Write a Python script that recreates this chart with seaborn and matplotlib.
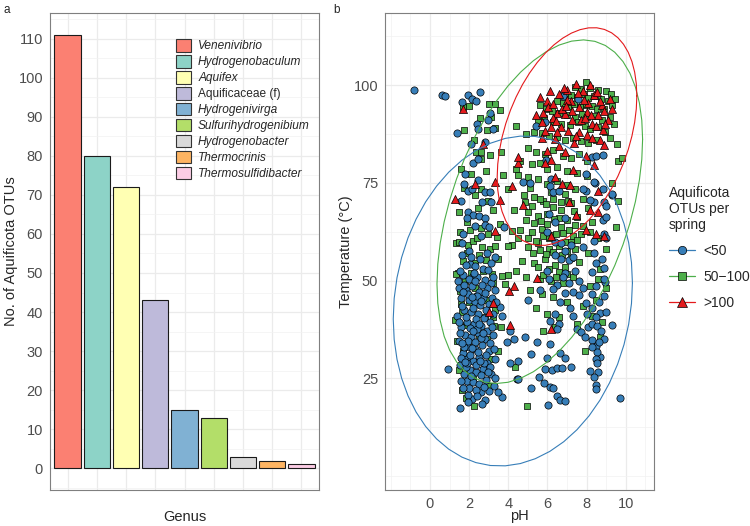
import numpy as np
import pandas as pd
import matplotlib
matplotlib.use("Agg")
import matplotlib.pyplot as plt
import seaborn as sns
from matplotlib.patches import Patch
from matplotlib.lines import Line2D
from matplotlib.ticker import FixedLocator, MultipleLocator

# ---- panel a: OTUs per genus ----
genera = ["Venenivibrio", "Hydrogenobaculum", "Aquifex", "Aquificaceae (f)",
          "Hydrogenivirga", "Sulfurihydrogenibium", "Hydrogenobacter",
          "Thermocrinis", "Thermosulfidibacter"]
otu_counts = [111, 80, 72, 43, 15, 13, 3, 2, 1]
genus_colours = ["#FB8072", "#8DD3C7", "#FFFFB3", "#BEBADA", "#80B1D3",
                 "#B3DE69", "#D9D9D9", "#FDB462", "#FCCDE5"]
genus_italic = [True, True, True, False, True, True, True, True, True]

# ---- panel b: springs, pH vs temperature ----
spring_groups = ["<50", "50\u2212100", ">100"]
group_colours = ["#377EB8", "#4DAF4A", "#E41A1C"]
group_markers = ["o", "s", "^"]
group_sizes = [27, 24, 34]

# (pH, temperature) for springs with <50 Aquificota OTUs
springs_lt50 = [
    (-0.8, 98.7), (0.6, 97.6), (0.75, 97.3), (1.65, 95.8), (1.95, 97.4), (2.15, 96.5),
    (2.35, 96.0), (2.55, 98.2), (3.05, 93.0), (2.95, 91.0), (3.2, 88.8), (2.4, 90.0),
    (2.45, 88.7), (1.4, 87.8), (2.1, 85.0), (2.8, 85.5), (2.2, 80.0), (2.45, 81.2),
    (6.8, 97.2), (5.4, 89.6), (5.9, 90.5), (7.55, 96.5), (8.3, 81.6), (8.5, 81.8),
    (8.85, 82.2), (5.95, 80.8), (6.2, 76.0), (7.95, 77.4),
    (1.8, 77.3), (1.75, 74.8), (1.95, 73.0), (2.15, 73.5), (2.8, 72.7), (3.05, 72.7),
    (2.65, 70.0), (3.1, 70.0), (1.95, 67.6), (2.2, 66.7), (2.5, 66.5), (1.9, 66.0),
    (2.8, 66.0), (2.3, 64.0), (2.8, 64.2), (3.0, 63.6), (3.8, 63.6), (1.65, 59.5),
    (2.05, 54.2), (2.3, 53.8), (2.2, 51.2), (1.7, 62.0), (2.6, 61.5), (2.0, 57.5),
    (3.3, 56.0), (1.6, 70.5), (2.45, 75.8),
    (4.75, 75.3), (5.1, 75.0), (6.15, 74.2), (6.3, 72.7), (6.6, 73.0), (7.95, 73.0),
    (8.45, 75.0), (8.85, 73.5), (9.3, 72.0), (8.4, 70.0), (8.9, 70.2), (9.0, 69.0),
    (6.1, 67.0), (6.4, 65.0), (6.9, 66.0), (8.85, 65.6), (9.0, 66.3), (8.9, 62.0),
    (9.0, 61.0), (6.0, 62.5), (6.4, 60.0), (6.7, 59.5), (7.2, 59.2), (7.8, 58.5),
    (8.4, 60.2), (6.4, 56.5), (6.7, 55.5), (7.1, 55.2), (8.4, 57.0), (8.5, 54.5),
    (8.8, 55.5), (6.0, 52.5), (6.9, 52.0), (8.3, 52.3), (8.9, 53.3), (8.2, 70.6),
    (7.8, 73.5), (8.4, 75.2), (9.3, 72.2),
    (1.45, 50.0), (1.7, 51.5), (2.0, 50.5), (2.4, 51.0), (2.8, 50.2), (3.1, 49.5),
    (1.5, 48.0), (1.85, 47.5), (2.15, 48.5), (2.5, 47.0), (2.9, 48.0), (3.3, 47.5),
    (1.6, 45.5), (2.0, 45.0), (2.3, 44.5), (2.7, 45.5), (3.0, 44.0), (3.6, 43.3),
    (1.75, 42.5), (2.1, 42.0), (2.45, 41.5), (2.85, 42.5), (1.4, 41.0), (1.9, 39.5),
    (2.25, 39.0), (2.6, 38.5), (3.05, 39.5), (1.6, 38.0), (1.8, 36.0), (2.1, 35.5),
    (2.45, 36.5), (2.8, 35.0), (3.2, 36.0), (1.5, 34.5), (2.0, 33.0), (2.3, 32.5),
    (2.65, 33.5), (3.0, 32.0), (1.7, 31.5), (1.9, 30.0), (2.2, 29.5), (2.5, 30.5),
    (2.9, 29.0), (3.3, 30.0), (1.55, 28.5), (2.05, 27.0), (2.35, 26.5), (2.7, 27.5),
    (3.1, 26.0), (1.75, 26.0), (1.9, 24.3), (2.2, 24.0), (2.5, 23.5), (2.85, 24.5),
    (3.25, 23.0), (1.6, 24.3), (2.17, 19.6), (1.93, 20.8), (2.82, 19.4), (3.67, 20.1),
    (3.47, 21.6), (1.54, 17.5), (0.9, 27.3), (2.6, 21.5), (2.0, 22.5),
    (1.65, 56.5), (2.1, 56.0), (2.55, 55.5), (2.9, 57.0), (1.85, 54.0), (2.7, 53.0),
    (3.1, 54.5), (1.55, 52.5), (2.25, 52.0), (2.95, 52.8), (1.75, 49.0), (2.3, 49.8),
    (2.65, 49.0), (3.2, 51.0), (1.95, 46.5), (2.4, 46.0), (2.8, 46.8), (3.15, 45.5),
    (1.65, 43.5), (2.2, 43.0), (2.55, 43.8), (3.35, 44.5), (1.85, 40.8), (2.35, 40.2),
    (2.75, 40.5), (3.2, 41.5), (2.05, 37.8), (2.4, 37.5), (2.9, 37.2), (1.55, 36.5),
    (1.95, 34.5), (2.3, 34.2), (2.6, 35.2), (3.05, 34.0), (1.75, 33.0), (2.45, 31.8),
    (2.85, 31.0), (3.25, 32.5), (2.05, 31.0), (1.6, 30.2), (2.35, 28.5), (2.75, 28.8),
    (3.05, 28.0), (1.85, 27.8), (2.6, 25.8), (2.95, 26.5), (2.1, 25.5), (1.7, 22.5),
    (2.35, 22.0), (3.0, 21.8), (2.4, 20.5), (1.95, 18.8), (2.65, 18.5), (3.3, 25.0),
    (2.15, 45.8), (2.5, 38.8), (1.9, 28.8), (2.75, 22.8),
    (1.7, 47.0), (2.6, 44.8), (1.5, 39.5), (2.2, 37.0), (2.7, 36.5), (1.65, 34.0),
    (2.15, 32.8), (2.55, 29.5), (1.8, 29.2), (3.15, 38.0),
    (4.1, 29.0), (4.45, 24.8), (4.1, 37.2), (3.93, 34.4), (4.27, 35.0), (3.7, 41.0),
    (4.87, 35.6), (5.47, 34.2), (6.15, 33.9), (5.18, 31.2), (4.5, 29.5), (5.98, 30.2),
    (6.67, 31.4), (6.89, 30.2), (5.9, 27.4), (6.24, 27.1), (6.5, 27.6), (6.75, 27.6),
    (7.23, 27.8), (4.5, 24.8), (5.18, 22.6), (5.59, 25.2), (5.81, 23.7), (6.15, 22.8),
    (6.27, 22.5), (6.5, 20.5), (6.67, 19.4), (6.89, 19.2), (6.03, 18.2), (6.67, 44.4),
    (7.18, 43.0), (6.4, 41.4), (6.15, 39.7), (6.58, 38.9), (6.5, 37.6), (7.3, 47.0),
    (7.6, 46.4), (6.9, 46.7), (7.52, 37.6), (7.7, 36.8), (5.6, 47.5), (5.0, 45.0),
    (6.1, 50.5), (6.5, 49.0), (6.8, 51.0), (7.1, 49.5), (6.3, 47.8), (7.4, 52.5),
    (6.9, 57.5), (7.3, 56.0), (7.6, 50.0), (7.8, 48.0), (8.0, 41.5), (8.7, 41.8),
    (8.9, 46.0), (8.1, 38.0), (7.9, 35.5), (8.6, 26.5), (8.7, 30.5), (8.9, 35.0),
    (8.3, 43.0), (7.3, 41.0),
    (8.46, 48.7), (8.97, 49.6), (8.63, 44.4), (7.95, 44.3), (8.26, 46.6), (8.46, 40.6),
    (8.29, 38.9), (8.55, 38.5), (8.72, 37.2), (9.28, 38.7), (8.26, 34.8), (8.46, 33.3),
    (8.55, 31.6), (8.46, 29.9), (8.55, 28.8), (8.29, 32.9), (8.63, 34.2), (8.2, 26.9),
    (8.38, 25.2), (8.46, 23.3), (8.46, 22.2), (9.69, 19.9), (8.9, 50.5), (9.0, 42.0),
]

# (pH, temperature) for springs with 50-100 Aquificota OTUs
springs_50_100 = [
    (7.95, 100.9), (7.4, 99.5), (7.7, 99.0), (8.2, 99.3), (8.6, 98.8), (9.0, 98.5),
    (9.25, 97.8), (6.9, 98.0), (7.2, 97.5), (7.5, 97.0), (7.85, 97.8), (8.1, 96.8),
    (8.4, 97.2), (8.75, 96.5), (9.1, 96.0), (9.3, 95.0), (6.5, 96.0), (6.8, 95.5),
    (7.05, 94.8), (7.35, 95.2), (7.65, 94.5), (7.95, 95.0), (8.3, 94.6), (8.55, 94.0),
    (8.9, 93.8), (5.6, 95.0), (5.95, 94.0), (6.25, 93.5), (6.6, 92.8), (7.0, 92.5),
    (7.4, 92.0), (7.75, 92.6), (8.05, 91.8), (8.45, 92.2), (8.8, 91.0), (9.2, 92.0),
    (5.5, 90.8), (5.85, 91.5), (6.3, 90.6), (6.7, 90.2), (7.15, 89.8), (7.55, 90.5),
    (7.9, 89.5), (8.2, 88.8), (8.6, 89.2), (8.95, 88.0), (5.3, 88.0), (5.7, 87.8),
    (6.1, 87.0), (6.5, 86.8), (6.9, 86.0), (7.3, 86.5), (7.7, 85.8), (8.1, 85.2),
    (8.5, 86.0), (4.9, 87.5), (9.4, 90.0), (9.55, 85.0), (9.3, 75.0), (9.6, 70.5),
    (9.2, 86.5), (9.45, 96.5),
    (5.0, 84.0), (5.4, 83.0), (5.9, 82.5), (6.3, 83.5), (6.8, 82.0), (7.2, 81.5),
    (7.6, 82.5), (8.0, 80.5), (4.6, 80.5), (5.2, 79.8), (5.6, 80.0), (6.0, 78.5),
    (6.5, 79.2), (7.0, 78.0), (7.5, 77.5), (8.0, 76.8), (9.6, 80.5), (9.8, 81.5),
    (4.5, 77.0), (5.0, 76.5), (5.5, 76.0), (6.0, 74.8), (6.5, 75.5), (7.0, 74.5),
    (7.4, 73.5), (7.8, 71.0), (4.0, 73.5), (4.8, 72.0), (5.3, 71.5), (5.8, 70.5),
    (6.3, 71.0), (6.7, 70.0), (7.2, 69.8), (8.1, 68.5), (4.3, 68.0), (5.0, 67.5),
    (5.5, 66.5), (6.0, 67.0), (6.6, 66.0), (7.0, 65.5), (7.5, 66.2), (8.3, 65.0),
    (9.5, 63.7), (4.6, 63.0), (5.2, 62.5), (5.7, 63.2), (6.2, 61.8), (6.8, 62.2),
    (7.3, 61.5), (7.7, 62.0), (8.6, 61.0), (4.2, 59.0), (5.0, 58.5), (5.5, 59.5),
    (6.1, 58.0), (6.6, 58.8), (7.0, 57.5), (7.4, 58.2), (8.1, 57.0), (9.0, 58.0),
    (4.7, 55.0), (5.3, 54.5), (5.9, 55.5), (6.4, 54.0), (6.9, 53.5), (7.6, 54.8),
    (8.7, 53.0), (4.0, 51.5), (4.9, 51.0), (5.6, 50.5), (6.2, 50.0), (6.8, 49.5),
    (7.3, 51.0), (8.2, 48.5), (5.1, 47.5), (5.7, 46.5), (6.3, 45.8), (7.0, 44.5),
    (7.8, 43.5), (8.5, 45.0), (5.4, 43.0), (6.0, 41.5), (6.6, 40.8), (7.5, 39.0),
    (8.3, 41.0), (8.8, 39.5), (5.8, 37.0), (6.4, 38.0), (7.9, 31.9), (4.96, 17.8),
    (4.36, 27.8), (8.7, 35.5),
    (4.85, 70.0), (5.2, 69.0), (5.6, 70.8), (5.95, 69.5), (6.3, 68.8), (6.7, 68.2),
    (7.05, 70.5), (7.35, 67.8), (4.9, 65.5), (5.3, 64.8), (5.65, 65.2), (6.0, 64.5),
    (6.35, 65.8), (6.7, 63.8), (7.1, 63.0), (7.4, 64.2), (5.0, 61.0), (5.4, 60.2),
    (5.8, 61.5), (6.1, 60.8), (6.45, 62.0), (6.9, 60.0), (7.2, 59.8), (5.25, 57.0),
    (5.6, 57.8), (5.95, 56.8), (6.3, 57.2), (6.75, 56.5), (7.2, 55.8), (5.5, 53.5),
    (6.1, 53.0), (6.6, 52.2), (7.0, 51.8), (5.8, 51.5), (6.45, 50.8), (7.5, 60.5),
    (7.8, 64.0), (8.2, 62.5), (4.5, 60.8), (4.4, 52.5), (5.1, 73.8), (6.2, 72.8),
    (6.9, 72.2), (8.6, 50.5), (9.0, 48.0),
    (1.7, 94.5), (2.0, 94.6), (3.0, 95.3), (3.3, 95.3), (3.6, 93.6), (1.75, 88.6),
    (2.9, 88.6), (3.3, 89.0), (4.4, 89.5), (2.35, 82.9), (2.6, 82.9), (3.05, 82.2),
    (2.6, 81.0), (3.65, 83.0), (2.1, 77.2), (2.85, 78.0), (3.75, 77.0), (4.4, 78.5),
    (1.75, 73.7), (2.6, 73.5), (2.3, 72.0), (3.6, 64.4), (4.2, 62.8), (3.2, 68.0),
    (1.35, 59.5), (1.5, 60.0), (1.95, 59.2), (2.2, 60.2), (2.65, 58.5), (3.05, 58.0),
    (3.3, 58.8), (4.0, 58.8), (1.9, 57.0), (2.5, 56.5), (2.85, 55.2), (1.45, 52.0),
    (2.1, 52.0), (2.7, 52.5), (3.15, 51.8), (1.33, 51.7), (1.55, 47.4), (1.4, 34.6),
    (1.7, 32.0), (1.5, 27.0), (1.63, 22.0), (2.27, 18.0), (3.04, 23.1), (1.85, 38.6),
    (2.82, 40.6), (3.2, 40.8), (3.25, 38.5), (3.64, 38.0), (3.68, 51.3), (3.85, 49.1),
    (3.2, 49.3), (2.0, 44.4), (3.3, 42.5), (2.4, 46.0), (2.9, 35.0), (2.5, 30.0),
    (1.8, 50.0), (2.3, 48.0), (2.9, 45.0), (1.65, 42.0), (2.5, 36.0), (1.9, 30.5),
    (2.2, 25.0), (3.1, 30.0), (2.6, 63.5), (1.9, 65.0),
    (1.55, 62.5), (2.05, 63.0), (2.4, 61.0), (2.95, 62.0), (3.4, 61.2), (1.7, 55.0),
    (2.3, 54.5), (3.5, 55.5), (1.5, 67.5), (2.45, 68.5), (2.95, 70.5), (1.6, 78.5),
    (2.25, 86.0), (3.1, 92.0), (2.55, 91.5), (1.6, 44.0), (2.7, 27.0), (1.85, 20.0),
    (3.5, 32.0), (1.3, 40.0),
]

# (pH, temperature) for springs with >100 Aquificota OTUs
springs_gt100 = [
    (7.44, 100.2), (6.0, 96.0), (6.05, 94.5), (7.23, 96.0), (8.38, 97.6), (9.3, 94.0),
    (5.4, 92.5), (6.5, 93.0), (6.9, 92.6), (8.6, 92.3), (5.9, 88.3), (6.2, 89.2),
    (6.7, 89.2), (7.06, 88.3), (7.6, 88.0), (6.4, 86.3), (7.35, 85.2), (8.7, 86.0),
    (8.9, 84.8), (6.0, 83.3), (6.9, 82.8), (7.95, 81.9), (6.2, 80.8), (4.5, 80.2),
    (7.3, 78.2), (5.9, 80.2), (6.4, 76.4), (6.75, 74.8), (7.15, 74.6), (4.73, 69.3),
    (7.44, 66.7), (7.95, 63.0), (8.5, 62.0), (8.9, 61.5), (7.8, 98.5), (8.1, 95.5),
    (7.0, 96.3), (6.6, 97.8), (8.8, 95.0), (7.7, 91.0), (8.3, 90.2), (6.3, 91.5),
    (5.7, 86.5), (8.0, 87.2), (6.6, 84.5), (8.4, 79.5), (8.6, 67.5), (7.1, 70.0),
    (8.2, 68.2), (6.2, 61.5), (8.6, 73.0),
    (6.3, 95.2), (6.75, 94.0), (7.6, 94.5), (8.05, 93.2), (8.9, 93.5), (9.1, 91.0),
    (6.5, 88.0), (7.25, 91.0), (8.85, 88.5), (5.7, 90.5), (7.0, 98.8), (8.2, 100.0),
    (5.6, 97.0), (6.15, 98.5), (6.85, 99.2), (7.25, 93.5), (7.85, 96.2), (8.55, 98.2),
    (8.25, 92.5), (8.95, 90.0), (6.45, 90.8), (7.45, 87.0), (8.3, 86.5), (5.8, 93.0),
    (9.2, 96.5), (7.55, 98.0), (8.7, 96.0), (6.95, 94.8), (7.9, 91.5), (8.5, 89.5),
    (1.7, 93.8), (2.7, 85.0), (4.5, 81.6), (2.3, 74.8), (3.3, 75.3), (4.2, 74.3),
    (1.3, 71.0), (3.6, 70.6), (3.3, 62.6), (4.27, 48.7), (4.05, 47.3), (3.2, 44.2),
    (3.03, 41.9), (4.1, 38.7), (5.45, 50.7), (6.2, 37.5),
]


def t_ellipse(x, y, level=0.95, nu=5, segments=51):
    # same idea as ggplot's stat_ellipse(type = "t"): robust t covariance
    xy = np.column_stack([x, y])
    n, p = xy.shape
    centre = xy.mean(0)
    shape = np.cov(xy.T)
    for _ in range(200):
        d = xy - centre
        q = np.einsum("ij,jk,ik->i", d, np.linalg.inv(shape), d)
        w = (nu + p) / (nu + q)
        shape = (w[:, None] * d).T @ d / n
        centre = (w[:, None] * xy).sum(0) / w.sum()
    m = n - 1
    qf = (m / 2) * ((1 - level) ** (-2 / m) - 1)
    radius = np.sqrt(2 * qf)
    ang = np.linspace(0, 2 * np.pi, segments)
    circle = np.column_stack([np.cos(ang), np.sin(ang)])
    pts = centre + radius * circle @ np.linalg.cholesky(shape).T
    return pts[:, 0], pts[:, 1]


sns.set_style("white")
plt.rcParams["font.family"] = ["Liberation Sans", "DejaVu Sans"]

tick_grey = "#4D4D4D"
border = "#333333"

fig = plt.figure(figsize=(7.5, 5.26), dpi=100)
ax_a = fig.add_axes([50 / 750, 36 / 526, 269 / 750, 477 / 526])
ax_b = fig.add_axes([385 / 750, 36 / 526, 269 / 750, 477 / 526])

# ---- panel a ----
df_a = pd.DataFrame({"genus": genera, "otus": otu_counts})
sns.barplot(data=df_a, x="genus", y="otus", hue="genus", order=genera,
            hue_order=genera, palette=dict(zip(genera, genus_colours)),
            saturation=1, width=0.9, edgecolor="#1A1A1A", linewidth=0.8,
            legend=False, ax=ax_a)
ax_a.set_xlim(-0.6, len(genera) - 0.4)
ax_a.set_ylim(-5.55, 116.55)
ax_a.yaxis.set_major_locator(MultipleLocator(10))
ax_a.yaxis.set_minor_locator(MultipleLocator(5))
ax_a.set_xticks(range(len(genera)))
ax_a.set_xticklabels([])
ax_a.set_xlabel("Genus", fontsize=10.5)
ax_a.set_ylabel("No. of Aquificota OTUs", fontsize=10.5)
ax_a.xaxis.set_label_coords(0.5, -0.042)
ax_a.yaxis.set_label_coords(-0.118, 0.5)

# ---- panel b ----
groups = [springs_lt50, springs_50_100, springs_gt100]
frames = []
for name, pts in zip(spring_groups, groups):
    arr = np.array(pts)
    frames.append(pd.DataFrame({"ph": arr[:, 0], "temp": arr[:, 1], "group": name}))
df_b = pd.concat(frames, ignore_index=True)

draw_order = [1, 0, 2]
for i in draw_order:
    sub = df_b[df_b["group"] == spring_groups[i]]
    sns.scatterplot(data=sub, x="ph", y="temp", color=group_colours[i],
                    marker=group_markers[i], s=group_sizes[i], edgecolor="black",
                    linewidth=0.5, legend=False, ax=ax_b, zorder=2)

for i, name in enumerate(spring_groups):
    sub = df_b[df_b["group"] == name]
    ex, ey = t_ellipse(sub["ph"].to_numpy(), sub["temp"].to_numpy())
    ax_b.plot(ex, ey, color=group_colours[i], linewidth=0.8, zorder=3)

ax_b.set_xlim(-2.3, 11.45)
ax_b.set_ylim(-3.6, 118.5)
ax_b.xaxis.set_major_locator(FixedLocator([0, 2, 4, 6, 8, 10]))
ax_b.xaxis.set_minor_locator(FixedLocator([-2, -1, 1, 3, 5, 7, 9, 11]))
ax_b.yaxis.set_major_locator(FixedLocator([25, 50, 75, 100]))
ax_b.yaxis.set_minor_locator(FixedLocator([0, 12.5, 37.5, 62.5, 87.5, 112.5]))
ax_b.set_xlabel("pH", fontsize=10.5)
ax_b.set_ylabel("Temperature (\u00b0C)", fontsize=10.5)
ax_b.xaxis.set_label_coords(0.5, -0.04)
ax_b.yaxis.set_label_coords(-0.12, 0.5)

for ax in (ax_a, ax_b):
    ax.set_axisbelow(True)
    for s in ax.spines.values():
        s.set_color("#7F7F7F")
        s.set_linewidth(0.8)
    ax.grid(True, which="major", axis="both", color="#EBEBEB", linewidth=0.9)
    ax.grid(True, which="minor", axis="both", color="#F2F2F2", linewidth=0.5)
    ax.tick_params(which="major", length=3, width=0.6, color=border,
                   labelsize=10.5, labelcolor=tick_grey, pad=2)
    ax.tick_params(which="minor", length=0)

# legends
handles_a = [Patch(facecolor=c, edgecolor="#333333", linewidth=0.8) for c in genus_colours]
leg_a = ax_a.legend(handles_a, genera, loc="upper left",
                    bbox_to_anchor=(176 / 750, 1 - 39 / 526), bbox_transform=fig.transFigure,
                    frameon=False, fontsize=8.6, handlelength=1.25, handleheight=1.25,
                    labelspacing=0.22, handletextpad=0.6, borderpad=0, borderaxespad=0)
for txt, it in zip(leg_a.get_texts(), genus_italic):
    if it:
        txt.set_fontstyle("italic")

handles_b = [Line2D([0], [0], color=c, marker=m, markersize=7 if m == "^" else 6,
                    markerfacecolor=c, markeredgecolor="black", markeredgewidth=0.5,
                    linewidth=0.9)
             for c, m in zip(group_colours, group_markers)]
leg_b = ax_b.legend(handles_b, spring_groups, title="Aquificota\nOTUs per\nspring",
                    loc="upper left", bbox_to_anchor=(669 / 750, 1 - 186 / 526),
                    bbox_transform=fig.transFigure, frameon=False, fontsize=10,
                    title_fontsize=10, handlelength=1.9, handletextpad=0.6,
                    labelspacing=0.85, borderpad=0, borderaxespad=0)
leg_b._legend_box.align = "left"

fig.text(3 / 750, 1 - 4 / 526, "a", fontsize=8.5, va="top", ha="left")
fig.text(333 / 750, 1 - 4 / 526, "b", fontsize=8.5, va="top", ha="left")

fig.savefig("out.png", dpi=100)
